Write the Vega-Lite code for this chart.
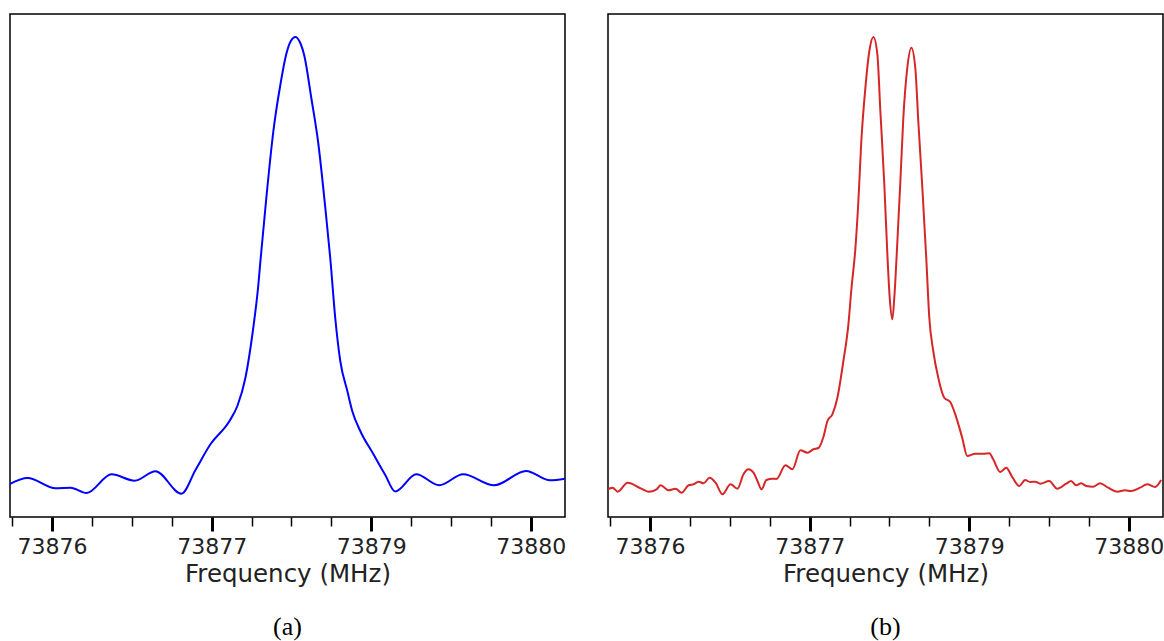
{
  "$schema": "https://vega.github.io/schema/vega-lite/v6.json",
  "padding": {"left": 9, "top": 13, "right": 0, "bottom": 0},
  "spacing": 40,
  "config": {
    "view": {"stroke": "black", "strokeWidth": 1.5},
    "font": "DejaVu Sans",
    "axisX": {
      "domain": false,
      "grid": false,
      "tickColor": "black",
      "labelFontSize": 22,
      "labelColor": "#222222",
      "labelPadding": 5,
      "labelOverlap": false,
      "labelFlush": false,
      "titleFontSize": 24.5,
      "titleFontWeight": "normal",
      "titleColor": "#222222",
      "titlePadding": 5
    },
    "title": {"font": "Liberation Serif", "fontSize": 26, "fontWeight": "normal", "color": "black", "orient": "bottom", "offset": 28}
  },
  "datasets": {
    "blue": [
      {"f": 73875.645, "v": 33}, {"f": 73875.795, "v": 39}, {"f": 73876.029, "v": 28.7}, {"f": 73876.154, "v": 29.3},
      {"f": 73876.288, "v": 24}, {"f": 73876.497, "v": 42.7}, {"f": 73876.689, "v": 36.3}, {"f": 73876.864, "v": 45.7},
      {"f": 73877.081, "v": 23.3}, {"f": 73877.198, "v": 47}, {"f": 73877.323, "v": 72.7}, {"f": 73877.482, "v": 96},
      {"f": 73877.548, "v": 111}, {"f": 73877.615, "v": 139}, {"f": 73877.674, "v": 183}, {"f": 73877.724, "v": 233},
      {"f": 73877.74, "v": 255}, {"f": 73877.79, "v": 319}, {"f": 73877.849, "v": 386}, {"f": 73877.907, "v": 432},
      {"f": 73877.957, "v": 463}, {"f": 73877.995, "v": 476}, {"f": 73878.033, "v": 480}, {"f": 73878.07, "v": 475}, {"f": 73878.108, "v": 461}, {"f": 73878.166, "v": 419},
      {"f": 73878.225, "v": 373}, {"f": 73878.283, "v": 309}, {"f": 73878.325, "v": 258}, {"f": 73878.366, "v": 199},
      {"f": 73878.408, "v": 156}, {"f": 73878.467, "v": 126}, {"f": 73878.508, "v": 106}, {"f": 73878.575, "v": 86},
      {"f": 73878.684, "v": 63}, {"f": 73878.784, "v": 42}, {"f": 73878.867, "v": 25.5}, {"f": 73879.043, "v": 42.7},
      {"f": 73879.235, "v": 31.7}, {"f": 73879.435, "v": 42.7}, {"f": 73879.694, "v": 31.7}, {"f": 73879.961, "v": 46},
      {"f": 73880.161, "v": 36.7}, {"f": 73880.286, "v": 38.3}
    ],
    "red": [
      {"f": 73875.645, "v": 27.7}, {"f": 73875.687, "v": 29.3}, {"f": 73875.729, "v": 25.3}, {"f": 73875.812, "v": 34.3},
      {"f": 73875.921, "v": 28.7}, {"f": 73875.987, "v": 25.3}, {"f": 73876.054, "v": 27.7}, {"f": 73876.088, "v": 31.7},
      {"f": 73876.154, "v": 26.7}, {"f": 73876.213, "v": 28.3}, {"f": 73876.263, "v": 24.3}, {"f": 73876.321, "v": 31.7},
      {"f": 73876.363, "v": 32.7}, {"f": 73876.405, "v": 35.3}, {"f": 73876.447, "v": 33.7}, {"f": 73876.497, "v": 39.3},
      {"f": 73876.547, "v": 34.3}, {"f": 73876.605, "v": 22.7}, {"f": 73876.672, "v": 32.7}, {"f": 73876.73, "v": 28.3},
      {"f": 73876.78, "v": 42.7}, {"f": 73876.822, "v": 47.7}, {"f": 73876.864, "v": 44.3}, {"f": 73876.897, "v": 36},
      {"f": 73876.931, "v": 27.7}, {"f": 73876.972, "v": 37}, {"f": 73877.023, "v": 38.3}, {"f": 73877.056, "v": 38},
      {"f": 73877.131, "v": 51.7}, {"f": 73877.189, "v": 47.7}, {"f": 73877.256, "v": 66.7}, {"f": 73877.315, "v": 64.3},
      {"f": 73877.365, "v": 67.7}, {"f": 73877.407, "v": 69}, {"f": 73877.448, "v": 80}, {"f": 73877.482, "v": 96},
      {"f": 73877.523, "v": 102.7}, {"f": 73877.565, "v": 119.3}, {"f": 73877.615, "v": 156}, {"f": 73877.657, "v": 192.7},
      {"f": 73877.682, "v": 228}, {"f": 73877.715, "v": 268}, {"f": 73877.74, "v": 315}, {"f": 73877.765, "v": 376},
      {"f": 73877.799, "v": 429.3}, {"f": 73877.832, "v": 466}, {"f": 73877.866, "v": 480}, {"f": 73877.899, "v": 462.7},
      {"f": 73877.924, "v": 406}, {"f": 73877.957, "v": 333}, {"f": 73877.982, "v": 264}, {"f": 73878.003, "v": 218},
      {"f": 73878.024, "v": 197.7}, {"f": 73878.042, "v": 222}, {"f": 73878.066, "v": 275}, {"f": 73878.091, "v": 335},
      {"f": 73878.116, "v": 399}, {"f": 73878.149, "v": 449}, {"f": 73878.183, "v": 469.3}, {"f": 73878.216, "v": 449},
      {"f": 73878.241, "v": 396}, {"f": 73878.275, "v": 329}, {"f": 73878.308, "v": 258}, {"f": 73878.333, "v": 199.3},
      {"f": 73878.366, "v": 166}, {"f": 73878.408, "v": 139.3}, {"f": 73878.458, "v": 119.3}, {"f": 73878.508, "v": 115},
      {"f": 73878.55, "v": 102.7}, {"f": 73878.608, "v": 79.3}, {"f": 73878.65, "v": 61}, {"f": 73878.717, "v": 63.3},
      {"f": 73878.784, "v": 63.3}, {"f": 73878.834, "v": 63.7}, {"f": 73878.867, "v": 57.7}, {"f": 73878.926, "v": 45},
      {"f": 73878.976, "v": 49.3}, {"f": 73879.026, "v": 40}, {"f": 73879.084, "v": 31}, {"f": 73879.134, "v": 37},
      {"f": 73879.176, "v": 35}, {"f": 73879.218, "v": 35.3}, {"f": 73879.26, "v": 33.3}, {"f": 73879.335, "v": 36},
      {"f": 73879.402, "v": 28.3}, {"f": 73879.477, "v": 33.3}, {"f": 73879.518, "v": 36}, {"f": 73879.56, "v": 31.7},
      {"f": 73879.602, "v": 33.7}, {"f": 73879.644, "v": 31}, {"f": 73879.702, "v": 30.3}, {"f": 73879.76, "v": 33.7},
      {"f": 73879.827, "v": 29.3}, {"f": 73879.902, "v": 25.3}, {"f": 73879.969, "v": 26.7}, {"f": 73880.019, "v": 26},
      {"f": 73880.094, "v": 29.3}, {"f": 73880.153, "v": 32.7}, {"f": 73880.22, "v": 30}, {"f": 73880.27, "v": 37}
    ]
  },
  "hconcat": [
    {
      "width": 555,
      "height": 503,
      "title": {"text": "(a)"},
      "data": {"name": "blue"},
      "mark": {"type": "line", "color": "#0000ff", "strokeWidth": 2, "interpolate": "monotone", "clip": true},
      "encoding": {
        "x": {"field": "f", "type": "quantitative", "title": "Frequency (MHz)",
          "scale": {"domain": [73875.648, 73880.286], "nice": false, "zero": false},
          "axis": {
            "values": [73875.6667, 73876, 73876.3333, 73876.6667, 73877, 73877.3333, 73877.6667, 73878, 73878.3333, 73878.6667, 73879, 73879.3333, 73879.6667, 73880],
            "labelExpr": "(datum.value == 73876 || datum.value == 73877.3333 || datum.value == 73878.6667 || datum.value == 73880) ? format(datum.value, '.0f') : ''",
            "tickSize": {"condition": {"test": "datum.value == 73876 || datum.value == 73877.3333 || datum.value == 73878.6667 || datum.value == 73880", "value": 14}, "value": 9},
            "tickWidth": {"condition": {"test": "datum.value == 73876 || datum.value == 73877.3333 || datum.value == 73878.6667 || datum.value == 73880", "value": 3}, "value": 1.5}
          }
        },
        "y": {"field": "v", "type": "quantitative", "axis": null, "scale": {"domain": [0, 503], "nice": false}}
      }
    },
    {
      "width": 555,
      "height": 503,
      "title": {"text": "(b)"},
      "data": {"name": "red"},
      "mark": {"type": "line", "color": "#d62728", "strokeWidth": 2, "interpolate": "monotone", "clip": true},
      "encoding": {
        "x": {"field": "f", "type": "quantitative", "title": "Frequency (MHz)",
          "scale": {"domain": [73875.648, 73880.286], "nice": false, "zero": false},
          "axis": {
            "values": [73875.6667, 73876, 73876.3333, 73876.6667, 73877, 73877.3333, 73877.6667, 73878, 73878.3333, 73878.6667, 73879, 73879.3333, 73879.6667, 73880],
            "labelExpr": "(datum.value == 73876 || datum.value == 73877.3333 || datum.value == 73878.6667 || datum.value == 73880) ? format(datum.value, '.0f') : ''",
            "tickSize": {"condition": {"test": "datum.value == 73876 || datum.value == 73877.3333 || datum.value == 73878.6667 || datum.value == 73880", "value": 14}, "value": 9},
            "tickWidth": {"condition": {"test": "datum.value == 73876 || datum.value == 73877.3333 || datum.value == 73878.6667 || datum.value == 73880", "value": 3}, "value": 1.5}
          }
        },
        "y": {"field": "v", "type": "quantitative", "axis": null, "scale": {"domain": [0, 503], "nice": false}}
      }
    }
  ]
}
